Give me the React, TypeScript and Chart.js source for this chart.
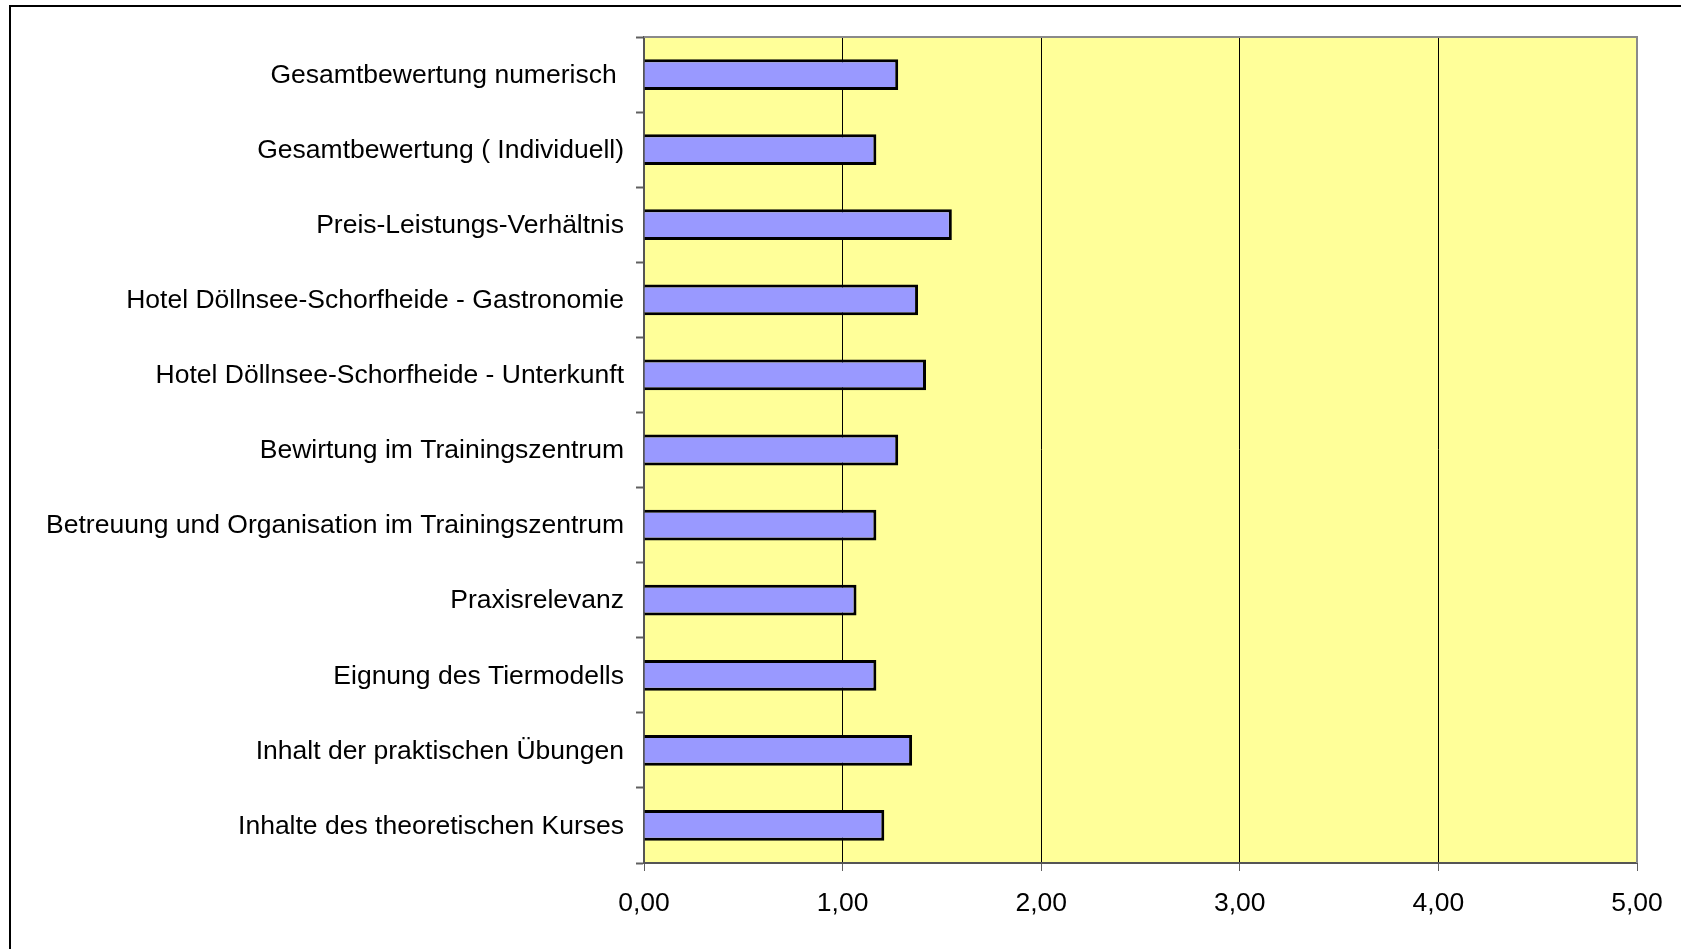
import React, { useEffect, useRef } from "react";
import { Chart, registerables } from "chart.js";

Chart.register(...registerables);

const categories: string[] = [
  "Gesamtbewertung numerisch ",
  "Gesamtbewertung ( Individuell)",
  "Preis-Leistungs-Verhältnis",
  "Hotel Döllnsee-Schorfheide - Gastronomie",
  "Hotel Döllnsee-Schorfheide - Unterkunft",
  "Bewirtung im Trainingszentrum",
  "Betreuung und Organisation im Trainingszentrum",
  "Praxisrelevanz",
  "Eignung des Tiermodells",
  "Inhalt der praktischen Übungen",
  "Inhalte des theoretischen Kurses",
];

const values: number[] = [1.28, 1.17, 1.55, 1.38, 1.42, 1.28, 1.17, 1.07, 1.17, 1.35, 1.21];

const xMin = 0;
const xMax = 5;
const xStep = 1;

const FONT = "'Liberation Sans', Arial, sans-serif";

const framePlugin = {
  id: "framePlugin",
  beforeDraw(chart: any) {
    const { ctx, chartArea } = chart;
    ctx.save();
    ctx.fillStyle = "#FFFF99";
    ctx.fillRect(chartArea.left, chartArea.top, chartArea.right - chartArea.left, chartArea.bottom - chartArea.top);
    ctx.strokeStyle = "#000";
    ctx.lineWidth = 2;
    ctx.beginPath();
    ctx.moveTo(10, 2000);
    ctx.lineTo(10, 6);
    ctx.lineTo(2000, 6);
    ctx.stroke();
    ctx.restore();
  },
  afterDatasetsDraw(chart: any) {
    const { ctx, chartArea } = chart;
    ctx.save();
    ctx.strokeStyle = "#8a8a8a";
    ctx.lineWidth = 2;
    ctx.beginPath();
    ctx.moveTo(chartArea.left, chartArea.top);
    ctx.lineTo(chartArea.right, chartArea.top);
    ctx.lineTo(chartArea.right, chartArea.bottom);
    ctx.stroke();
    ctx.restore();
  },
};

export default function App() {
  const ref = useRef<HTMLCanvasElement | null>(null);

  useEffect(() => {
    if (!ref.current) return;
    const chart = new Chart(ref.current, {
      type: "bar",
      data: {
        labels: categories,
        datasets: [
          {
            data: values,
            backgroundColor: "#9999FF",
            borderColor: "#000000",
            borderWidth: 3,
            barPercentage: 0.41,
            categoryPercentage: 1,
          },
        ],
      },
      options: {
        indexAxis: "y",
        animation: false,
        responsive: true,
        maintainAspectRatio: false,
        layout: { padding: { top: 37, right: 44, left: 0, bottom: 0 } },
        plugins: {
          legend: { display: false },
          tooltip: { enabled: false },
        },
        scales: {
          x: {
            min: xMin,
            max: xMax,
            ticks: {
              stepSize: xStep,
              color: "#000",
              font: { family: FONT, size: 26.5 },
              padding: 17,
              callback: (v: any) => Number(v).toFixed(2).replace(".", ","),
            },
            grid: {
              color: (c: any) => (c.tick && (c.tick.value === xMin || c.tick.value === xMax) ? "rgba(0,0,0,0)" : "#000"),
              lineWidth: 1,
              tickColor: "#606060",
              tickLength: 8,
              drawTicks: true,
            },
            border: { display: true, color: "#555", width: 2 },
            afterFit: (s: any) => {
              s.height = 86;
            },
          },
          y: {
            ticks: {
              color: "#000",
              font: { family: FONT, size: 26.5 },
              padding: 12,
              labelOffset: 1,
            },
            grid: {
              drawOnChartArea: false,
              drawTicks: true,
              tickLength: 8,
              tickColor: "#606060",
              tickWidth: 2,
              offset: true,
            },
            border: { display: true, color: "#555", width: 2 },
            afterFit: (s: any) => {
              s.width = 644;
            },
          },
        },
      },
      plugins: [framePlugin],
    });
    return () => chart.destroy();
  }, []);

  return (
    <div style={{ position: "fixed", left: 0, top: 0, width: 1681, height: 949, background: "#fff" }}>
      <canvas ref={ref} />
    </div>
  );
}
